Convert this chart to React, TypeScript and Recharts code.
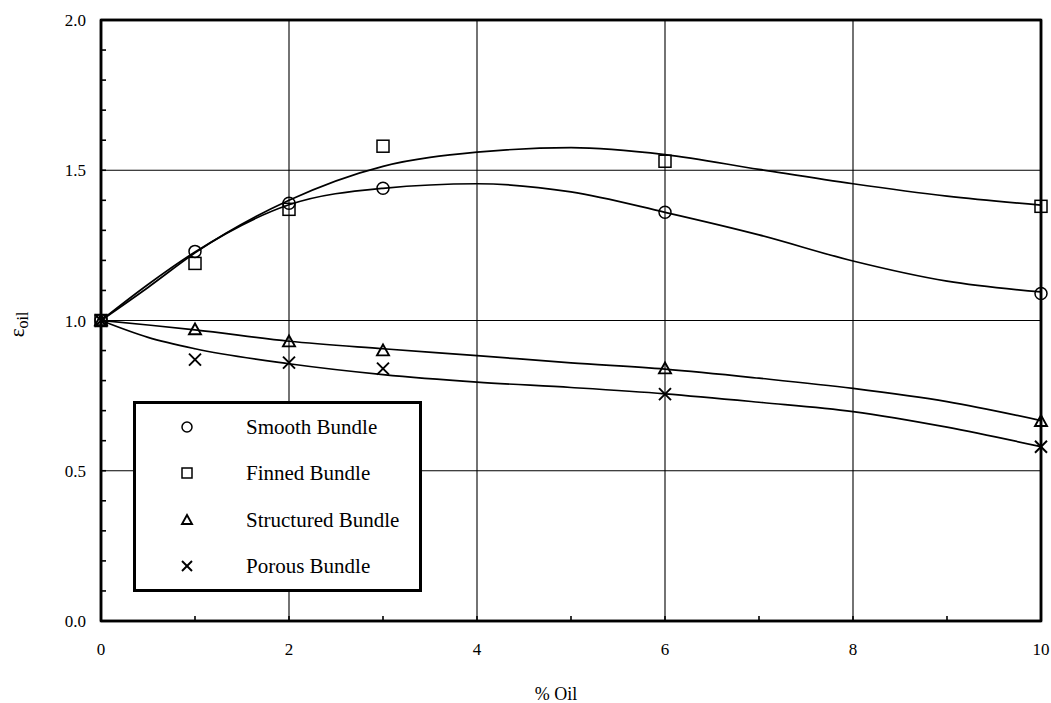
import {
  ComposedChart,
  Line,
  Scatter,
  XAxis,
  YAxis,
  ReferenceLine,
  ReferenceArea,
  Legend,
  Label,
} from "recharts";

const FONT = "'Liberation Serif', 'Times New Roman', serif";

// measured points
const oilPct = [0, 1, 2, 3, 6, 10];
const smoothVals = [1.0, 1.23, 1.39, 1.44, 1.36, 1.09];
const finnedVals = [1.0, 1.19, 1.37, 1.58, 1.53, 1.38];
const structuredVals = [1.0, 0.97, 0.93, 0.9, 0.84, 0.665];
const porousVals = [1.0, 0.87, 0.86, 0.84, 0.755, 0.58];

// fitted curves
const fitX = [0, 0.5, 1, 2, 3, 4, 5, 6, 7, 8, 9, 10];
const smoothFit = [1.0, 1.12, 1.228, 1.385, 1.44, 1.455, 1.428, 1.36, 1.285, 1.198, 1.131, 1.095];
const finnedFit = [1.0, 1.11, 1.225, 1.4, 1.513, 1.56, 1.575, 1.552, 1.503, 1.455, 1.414, 1.384];
const structuredFit = [1.0, 0.985, 0.969, 0.931, 0.906, 0.883, 0.859, 0.838, 0.808, 0.774, 0.73, 0.667];
const porousFit = [1.0, 0.944, 0.906, 0.856, 0.82, 0.795, 0.777, 0.756, 0.728, 0.697, 0.645, 0.58];

const xTicks = [0, 1, 2, 3, 4, 5, 6, 7, 8, 9, 10];
const yTicks = [0, 0.1, 0.2, 0.3, 0.4, 0.5, 0.6, 0.7, 0.8, 0.9, 1.0, 1.1, 1.2, 1.3, 1.4, 1.5, 1.6, 1.7, 1.8, 1.9, 2.0];
const gridX = [2, 4, 6, 8];
const gridY = [0.5, 1.0, 1.5];

const legendNames = ["Smooth Bundle", "Finned Bundle", "Structured Bundle", "Porous Bundle"];
const markerKinds = ["circle", "square", "triangle", "cross"];

const toPoints = (xs: number[], ys: number[]) => xs.map((x, i) => ({ x, y: ys[i] }));

const Marker = ({ kind, cx, cy, s }: { kind: string; cx: number; cy: number; s: number }) => {
  const h = s / 2;
  if (kind === "circle")
    return <circle cx={cx} cy={cy} r={h} fill="none" stroke="#000" strokeWidth={1.5} />;
  if (kind === "square")
    return <rect x={cx - h} y={cy - h} width={s} height={s} fill="none" stroke="#000" strokeWidth={1.5} />;
  if (kind === "triangle")
    return (
      <polygon
        points={`${cx},${cy - h} ${cx + h},${cy + h * 0.8} ${cx - h},${cy + h * 0.8}`}
        fill="none"
        stroke="#000"
        strokeWidth={1.9}
      />
    );
  return (
    <g stroke="#000" strokeWidth={1.9}>
      <line x1={cx - h} y1={cy - h} x2={cx + h} y2={cy + h} />
      <line x1={cx - h} y1={cy + h} x2={cx + h} y2={cy - h} />
    </g>
  );
};

const shapeFor = (kind: string) => (props: any) =>
  <Marker kind={kind} cx={props.cx} cy={props.cy} s={12} />;

const LegendBox = () => (
  <div
    style={{
      width: 289,
      height: 191,
      boxSizing: "border-box",
      border: "3px solid #000",
      background: "#fff",
      fontFamily: FONT,
      fontSize: 21,
      color: "#000",
    }}
  >
    {legendNames.map((name, i) => (
      <div key={name} style={{ position: "relative", height: 46.3 }}>
        <svg width={20} height={20} style={{ position: "absolute", left: 41, top: 13 }}>
          <Marker kind={markerKinds[i]} cx={10} cy={10} s={10} />
        </svg>
        <span style={{ position: "absolute", left: 110, lineHeight: "46px" }}>{name}</span>
      </div>
    ))}
  </div>
);

const YLabel = (props: any) => {
  const vb = props.viewBox;
  const x = vb.x + 24;
  const y = vb.y + vb.height / 2 + 4;
  return (
    <text x={x} y={y} transform={`rotate(-90, ${x}, ${y})`} textAnchor="middle" fontFamily={FONT} fontSize={21} fill="#000">
      ε
      <tspan fontSize={16} dy={4}>oil</tspan>
    </text>
  );
};

const XLabel = (props: any) => {
  const vb = props.viewBox;
  return (
    <text x={vb.x + vb.width / 2 - 15} y={vb.y + vb.height - 3} textAnchor="middle" fontFamily={FONT} fontSize={18} fill="#000">
      % Oil
    </text>
  );
};

const isHalf = (v: number) => Math.abs(v * 2 - Math.round(v * 2)) < 1e-6;

const XTick = (props: any) => {
  const v = props.payload.value;
  if (v % 2 !== 0) return <g />;
  return (
    <text x={props.x} y={props.y + 13} textAnchor="middle" fontFamily={FONT} fontSize={17} fill="#000">
      {v}
    </text>
  );
};

const YTick = (props: any) => {
  const v = props.payload.value;
  if (!isHalf(v)) return <g />;
  return (
    <text x={props.x} y={props.y + 6} textAnchor="end" fontFamily={FONT} fontSize={17} fill="#000">
      {v.toFixed(1)}
    </text>
  );
};

const axisLine = { stroke: "#000", strokeWidth: 2.5 };
const tickLine = { stroke: "#000", strokeWidth: 1.6 };

export default function App() {
  return (
    <div style={{ position: "absolute", left: 0, top: 0, width: 1051, height: 703, background: "#fff" }}>
      <ComposedChart width={1051} height={703} margin={{ top: 0, right: 0, bottom: 0, left: 0 }}>
        <XAxis
          type="number"
          dataKey="x"
          domain={[0, 10]}
          ticks={xTicks}
          interval={0}
          height={82}
          stroke="#000"
          axisLine={axisLine}
          tickLine={tickLine}
          tickSize={-5}
          tickMargin={26}
          tick={XTick}
        >
          <Label content={XLabel} />
        </XAxis>
        <XAxis
          xAxisId="top"
          orientation="top"
          type="number"
          domain={[0, 10]}
          ticks={xTicks}
          interval={0}
          height={20}
          stroke="#000"
          axisLine={axisLine}
          tickLine={tickLine}
          tickSize={-5}
          tick={false}
        />
        <YAxis
          type="number"
          dataKey="y"
          domain={[0, 2]}
          ticks={yTicks}
          interval={0}
          width={101}
          stroke="#000"
          axisLine={axisLine}
          tickLine={tickLine}
          tickSize={-5}
          tickMargin={20}
          tick={YTick}
        >
          <Label content={YLabel} />
        </YAxis>
        <YAxis
          yAxisId="right"
          orientation="right"
          type="number"
          domain={[0, 2]}
          ticks={yTicks}
          interval={0}
          width={10}
          stroke="#000"
          axisLine={axisLine}
          tickLine={tickLine}
          tickSize={-5}
          tick={false}
        />
        {gridX.map((v) => (
          <ReferenceLine key={`gx${v}`} x={v} stroke="#000" strokeWidth={1.1} />
        ))}
        {gridY.map((v) => (
          <ReferenceLine key={`gy${v}`} y={v} stroke="#000" strokeWidth={1.1} />
        ))}
        <ReferenceArea x1={0} x2={10} y1={0} y2={2} fill="none" stroke="#000" strokeWidth={2.5} ifOverflow="visible" />
        <Line data={toPoints(fitX, smoothFit)} dataKey="y" type="monotone" stroke="#000" strokeWidth={1.7} dot={false} activeDot={false} isAnimationActive={false} />
        <Line data={toPoints(fitX, finnedFit)} dataKey="y" type="monotone" stroke="#000" strokeWidth={1.7} dot={false} activeDot={false} isAnimationActive={false} />
        <Line data={toPoints(fitX, structuredFit)} dataKey="y" type="monotone" stroke="#000" strokeWidth={1.7} dot={false} activeDot={false} isAnimationActive={false} />
        <Line data={toPoints(fitX, porousFit)} dataKey="y" type="monotone" stroke="#000" strokeWidth={1.7} dot={false} activeDot={false} isAnimationActive={false} />
        <Scatter name="Smooth Bundle" data={toPoints(oilPct, smoothVals)} shape={shapeFor("circle")} isAnimationActive={false} />
        <Scatter name="Finned Bundle" data={toPoints(oilPct, finnedVals)} shape={shapeFor("square")} isAnimationActive={false} />
        <Scatter name="Structured Bundle" data={toPoints(oilPct, structuredVals)} shape={shapeFor("triangle")} isAnimationActive={false} />
        <Scatter name="Porous Bundle" data={toPoints(oilPct, porousVals)} shape={shapeFor("cross")} isAnimationActive={false} />
        <Legend
          layout="vertical"
          align="center"
          verticalAlign="middle"
          content={LegendBox}
          wrapperStyle={{ left: 133, top: 401, width: 289, height: 191 }}
        />
      </ComposedChart>
    </div>
  );
}
